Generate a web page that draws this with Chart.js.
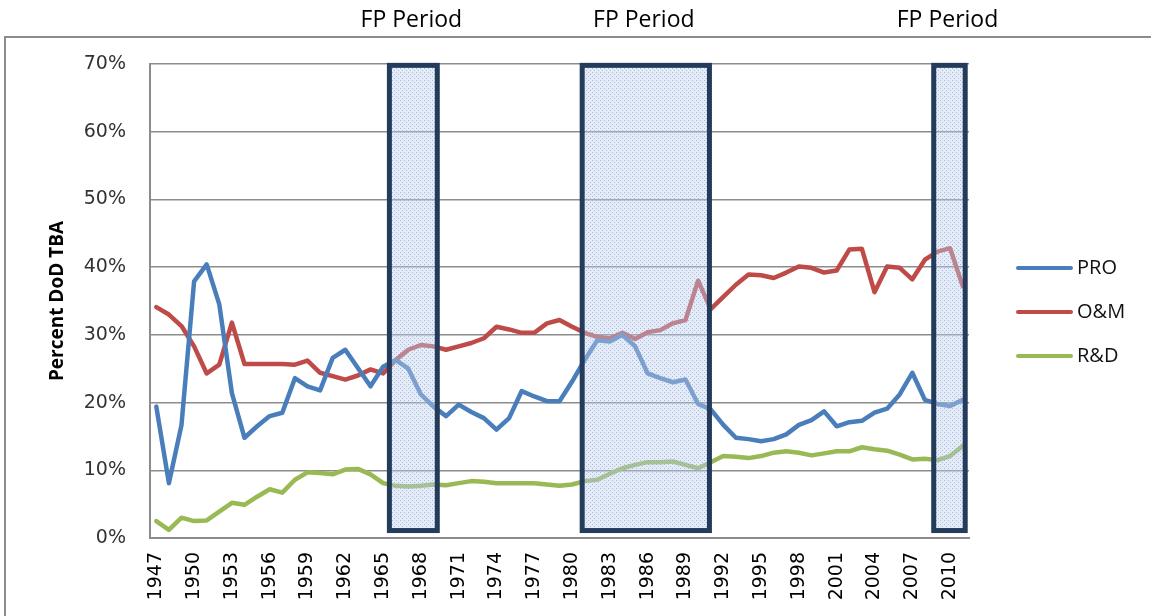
<!DOCTYPE html>
<html>
<head>
<meta charset="utf-8">
<script src="https://cdn.jsdelivr.net/npm/chart.js@4.4.1/dist/chart.umd.min.js"></script>
<style>
  html, body { margin: 0; padding: 0; background: #fff; }
  #wrap { width: 1151px; height: 616px; position: relative; }
</style>
</head>
<body>
<div id="wrap"><canvas id="myChart"></canvas></div>
<script>
// data (percent of DoD TBA)
var years = ['1947','1948','1949','1950','1951','1952','1953','1954','1955','1956',
  '1957','1958','1959','1960','1961','1962','1963','1964','1965','1966',
  '1967','1968','1969','1970','1971','1972','1973','1974','1975','1976',
  '1977','1978','1979','1980','1981','1982','1983','1984','1985','1986',
  '1987','1988','1989','1990','1991','1992','1993','1994','1995','1996',
  '1997','1998','1999','2000','2001','2002','2003','2004','2005','2006',
  '2007','2008','2009','2010','2011'];

var tickLabels = ['1947','1950','1953','1956','1959','1962','1965','1968','1971','1974',
  '1977','1980','1983','1986','1989','1992','1995','1998','2001','2004','2007','2010'];

var pro = [19.4, 8.1, 16.7, 37.9, 40.4, 34.5, 21.4, 14.8, 16.5, 18.0,
  18.5, 23.6, 22.4, 21.8, 26.6, 27.8, 25.1, 22.4, 25.3, 26.3,
  25.0, 21.2, 19.4, 18.0, 19.7, 18.6, 17.7, 16.0, 17.7, 21.7,
  20.9, 20.2, 20.2, 23.1, 26.3, 29.2, 29.0, 30.0, 28.3, 24.3,
  23.6, 23.0, 23.4, 19.8, 19.0, 16.7, 14.8, 14.6, 14.3, 14.6,
  15.3, 16.7, 17.4, 18.7, 16.5, 17.1, 17.3, 18.5, 19.1, 21.2,
  24.4, 20.4, 19.8, 19.5, 20.4];

var om = [34.1, 33.0, 31.3, 28.3, 24.3, 25.6, 31.8, 25.7, 25.7, 25.7,
  25.7, 25.6, 26.2, 24.4, 23.9, 23.4, 24.0, 24.9, 24.3, 26.3,
  27.8, 28.5, 28.3, 27.8, 28.3, 28.8, 29.5, 31.2, 30.8, 30.3,
  30.3, 31.7, 32.2, 31.2, 30.3, 29.7, 29.5, 30.3, 29.4, 30.4,
  30.7, 31.7, 32.2, 38.0, 33.8, 35.6, 37.4, 38.9, 38.8, 38.4,
  39.2, 40.1, 39.9, 39.2, 39.5, 42.6, 42.7, 36.3, 40.1, 39.9,
  38.2, 41.1, 42.3, 42.8, 37.2];

var rd = [2.5, 1.2, 3.0, 2.5, 2.6, 3.9, 5.2, 4.9, 6.1, 7.2,
  6.7, 8.6, 9.7, 9.6, 9.4, 10.1, 10.2, 9.4, 8.1, 7.7,
  7.6, 7.7, 7.9, 7.8, 8.1, 8.4, 8.3, 8.1, 8.1, 8.1,
  8.1, 7.9, 7.7, 7.9, 8.4, 8.6, 9.5, 10.3, 10.8, 11.2,
  11.2, 11.3, 10.8, 10.3, 11.2, 12.1, 12.0, 11.8, 12.1, 12.6,
  12.8, 12.6, 12.2, 12.5, 12.8, 12.8, 13.4, 13.1, 12.9, 12.3,
  11.6, 11.7, 11.5, 12.1, 13.6];

// FP periods (fractional years, as drawn)
var fpStart = [1965.5, 1980.8, 2008.7];
var fpEnd   = [1969.3, 1990.9, 2011.2];
var fpLabel = 'FP Period';

// dotted light blue fill for the boxes
function makePattern() {
  var p = document.createElement('canvas');
  p.width = 4; p.height = 4;
  var c = p.getContext('2d');
  c.fillStyle = 'rgba(195,210,235,0.42)';
  c.fillRect(0, 0, 4, 4);
  c.fillStyle = 'rgba(120,155,208,0.6)';
  c.fillRect(0, 0, 1, 1);
  c.fillRect(2, 2, 1, 1);
  return c.createPattern(p, 'repeat');
}

var frame = {
  id: 'frame',
  beforeDraw: function(chart) {
    var ctx = chart.ctx;
    ctx.save();
    ctx.strokeStyle = '#8c8c8c';
    ctx.lineWidth = 2;
    ctx.beginPath();
    ctx.moveTo(5, 616);
    ctx.lineTo(5, 37);
    ctx.lineTo(1151, 37);
    ctx.stroke();
    ctx.restore();
  }
};

var fpBoxes = {
  id: 'fpBoxes',
  afterDatasetsDraw: function(chart) {
    var ctx = chart.ctx, x = chart.scales.x, y = chart.scales.y;
    var pat = makePattern();
    ctx.save();
    for (var i = 0; i < fpStart.length; i++) {
      var x0 = x.getPixelForValue(fpStart[i] - 1947);
      var x1 = x.getPixelForValue(fpEnd[i] - 1947);
      var y0 = y.getPixelForValue(69.8);
      var y1 = y.getPixelForValue(1.1);
      ctx.fillStyle = pat;
      ctx.fillRect(x0, y0, x1 - x0, y1 - y0);
      ctx.strokeStyle = '#243c5c';
      ctx.lineWidth = 5;
      ctx.strokeRect(x0, y0, x1 - x0, y1 - y0);
      ctx.fillStyle = '#000';
      ctx.font = '23px "Open Sans"';
      ctx.textAlign = 'center';
      ctx.textBaseline = 'middle';
      ctx.fillText(fpLabel, (x0 + x1) / 2 - 2, 20);
    }
    ctx.restore();
  }
};

var sideLegend = {
  id: 'sideLegend',
  afterDraw: function(chart) {
    var ctx = chart.ctx;
    ctx.save();
    ctx.font = '20px "Open Sans"';
    ctx.textBaseline = 'middle';
    ctx.textAlign = 'left';
    chart.data.datasets.forEach(function(ds, i) {
      var yy = 268 + i * 44;
      ctx.strokeStyle = ds.borderColor;
      ctx.lineWidth = 4;
      ctx.lineCap = 'round';
      ctx.beginPath();
      ctx.moveTo(1018, yy);
      ctx.lineTo(1071, yy);
      ctx.stroke();
      ctx.fillStyle = '#111';
      ctx.fillText(ds.label, 1077, yy);
    });
    ctx.restore();
  }
};

var ctx = document.getElementById('myChart').getContext('2d');
var chart = new Chart(ctx, {
  type: 'line',
  data: {
    labels: years,
    datasets: [
      { label: 'PRO', data: pro, borderColor: '#4a7ebb', backgroundColor: '#4a7ebb' },
      { label: 'O&M', data: om, borderColor: '#be4b48', backgroundColor: '#be4b48' },
      { label: 'R&D', data: rd, borderColor: '#98b954', backgroundColor: '#98b954' }
    ]
  },
  options: {
    responsive: true,
    maintainAspectRatio: false,
    animation: false,
    layout: { padding: { left: 42, top: 64, right: 182, bottom: 0 } },
    elements: {
      line: { borderWidth: 4.5, tension: 0, borderJoinStyle: 'round', borderCapStyle: 'round', fill: false },
      point: { radius: 0, hoverRadius: 0 }
    },
    plugins: {
      legend: { display: false },
      tooltip: { enabled: false }
    },
    scales: {
      x: {
        offset: true,
        grid: { display: false, drawTicks: false },
        border: { display: true, color: '#8c8c8c', width: 2 },
        afterFit: function(s) { s.height = 78; },
        ticks: {
          autoSkip: false,
          maxRotation: 90,
          minRotation: 90,
          padding: 14,
          color: '#000',
          font: { family: 'DejaVu Sans', size: 19 },
          callback: function(v, i) {
            var l = this.getLabelForValue(v);
            return tickLabels.indexOf(l) >= 0 ? l : '';
          }
        }
      },
      y: {
        min: 0,
        max: 70,
        afterFit: function(s) { s.width = 108; },
        grid: { color: '#8c8c8c', lineWidth: 1.5, drawTicks: false },
        border: { display: true, color: '#8c8c8c', width: 2 },
        title: {
          display: true,
          text: 'Percent DoD TBA',
          color: '#000',
          font: { family: 'Open Sans', size: 19, weight: 'bold' }
        },
        ticks: {
          stepSize: 10,
          padding: 24,
          color: '#333',
          font: { family: 'DejaVu Sans', size: 19 },
          callback: function(v) { return v + '%'; }
        }
      }
    }
  },
  plugins: [frame, fpBoxes, sideLegend]
});
</script>
</body>
</html>
